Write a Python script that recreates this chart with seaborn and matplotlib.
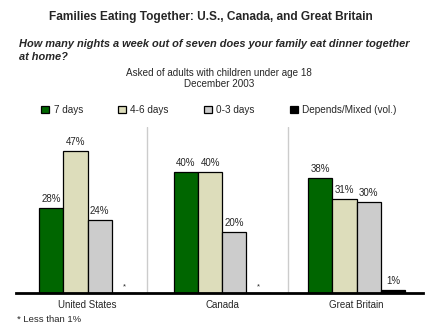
import matplotlib
matplotlib.use("Agg")
import matplotlib.pyplot as plt
import seaborn as sns
import pandas as pd

countries = ["United States", "Canada", "Great Britain"]
series = ["7 days", "4-6 days", "0-3 days", "Depends/Mixed (vol.)"]
v_7days = [28, 40, 38]
v_46days = [47, 40, 31]
v_03days = [24, 20, 30]
v_depends = [0, 0, 1]
lbl_depends = ["*", "*", "1%"]
colors = ["#006600", "#DDDDBB", "#CCCCCC", "#000000"]

sns.set_theme(style="white")
plt.rcParams["font.family"] = ["Liberation Sans", "DejaVu Sans"]

rows = []
for s, vals in zip(series, [v_7days, v_46days, v_03days, v_depends]):
    for c, v in zip(countries, vals):
        rows.append({"country": c, "series": s, "value": v})
df = pd.DataFrame(rows)

W, H = 440, 330
fig = plt.figure(figsize=(W / 100, H / 100), dpi=100)
fig.patch.set_facecolor("white")
ax_l, ax_r, ax_b, ax_t = 16, 423, 292.6, 127
ax = fig.add_axes([ax_l / W, 1 - ax_b / H, (ax_r - ax_l) / W, (ax_b - ax_t) / H])

sns.barplot(data=df, x="country", y="value", hue="series", order=countries,
            hue_order=series, palette=colors, width=0.72, edgecolor="black",
            linewidth=0.9, saturation=1, ax=ax, legend=True)

ax.set_xlim(-0.533, 2.493)
ax.set_ylim(0, 55.0)
for x in (0.439, 1.491):
    ax.axvline(x, color="#CCCCCC", lw=1, zorder=0)

labels_all = [[f"{v}%" for v in v_7days], [f"{v}%" for v in v_46days],
              [f"{v}%" for v in v_03days], lbl_depends]
for cont, labs in zip(ax.containers, labels_all):
    for bar, lab in zip(cont, labs):
        xc = bar.get_x() + bar.get_width() / 2
        h = bar.get_height()
        if lab == "*":
            ax.text(xc, 2.0, "*", ha="center", va="center", fontsize=5.5)
        else:
            ax.text(xc, h + 3.0, lab, ha="center", va="center", fontsize=7.0)

for sp in ["top", "right", "left"]:
    ax.spines[sp].set_visible(False)
ax.spines["bottom"].set_linewidth(2)
ax.spines["bottom"].set_color("black")
ax.set_yticks([])
ax.set_xlabel("")
ax.set_ylabel("")
ax.tick_params(axis="x", length=0, pad=5, labelsize=7.0)

handles, labs = ax.get_legend_handles_labels()
ax.get_legend().remove()
fig.legend(handles, labs, loc="center left", bbox_to_anchor=(41 / W, 1 - 110 / H),
           ncol=4, frameon=False, fontsize=7.2, handlelength=0.8, handleheight=0.8,
           handletextpad=0.45, columnspacing=3.5, borderpad=0, borderaxespad=0)

fig.text(210.5 / W, 1 - 17 / H, "Families Eating Together: U.S., Canada, and Great Britain",
         ha="center", va="center", fontsize=8.55, fontweight="bold")
fig.text(19 / W, 1 - 44 / H, "How many nights a week out of seven does your family eat dinner together",
         ha="left", va="center", fontsize=7.95, fontweight="bold", style="italic")
fig.text(19 / W, 1 - 57 / H, "at home?",
         ha="left", va="center", fontsize=7.95, fontweight="bold", style="italic")
fig.text(219 / W, 1 - 73 / H, "Asked of adults with children under age 18",
         ha="center", va="center", fontsize=7.1)
fig.text(219 / W, 1 - 84 / H, "December 2003",
         ha="center", va="center", fontsize=7.1)
fig.text(17 / W, 1 - 319 / H, "* Less than 1%", ha="left", va="center", fontsize=6.8)

fig.savefig("out.png", dpi=100, facecolor="white")
